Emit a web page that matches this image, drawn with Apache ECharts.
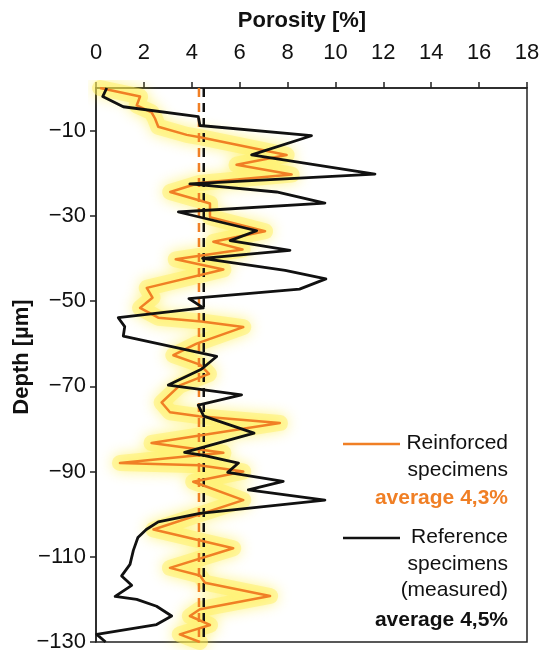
<!DOCTYPE html>
<html>
<head>
<meta charset="utf-8">
<script src="https://cdn.jsdelivr.net/npm/echarts@6/dist/echarts.min.js"></script>
<style>
html,body{margin:0;padding:0;background:#fff;}
#chart{width:544px;height:654px;}
</style>
</head>
<body>
<div id="chart"></div>
<script>
// ---- data ----
var xTicks = [0, 2, 4, 6, 8, 10, 12, 14, 16, 18];
var depthTicks = [-10, -30, -50, -70, -90, -110, -130];

var refDepth = [0,-2.0,-4.4,-6.7,-8.8,-11.2,-15.7,-20.2,-22.5,-22.8,-24.4,-27.0,-29.1,-33.5,-35.8,-38.1,-40.0,-42.8,-44.8,-47.2,-49.4,-51.6,-53.9,-56.0,-58.2,-63.0,-66.0,-69.7,-72.0,-74.4,-77.0,-81.0,-85.5,-86.2,-88.0,-90.2,-92.3,-94.3,-96.7,-99.8,-101.8,-103.6,-105.5,-108.5,-111.8,-114.5,-116.7,-119.3,-120.0,-121.6,-123.9,-125.9,-128.2,-130];
var refPorosity = [0.45,0.28,1.14,4.27,4.34,9.0,6.5,11.65,3.92,4.5,7.54,9.56,3.44,6.71,5.6,8.1,4.45,7.9,9.6,8.5,3.88,4.48,0.93,1.2,1.14,5.04,4.4,3.02,6.08,4.27,4.5,6.6,3.7,4.5,5.95,5.5,7.82,6.36,9.56,4.34,2.6,2.1,1.75,1.56,1.42,1.07,1.49,0.8,1.7,2.53,3.16,2.53,0.03,0.4];

var reinfDepth = [0,-2.0,-4.1,-5.7,-7.1,-9.1,-11.0,-11.6,-15.7,-18.0,-20.3,-22.3,-24.4,-26.4,-27.1,-30.3,-33.6,-36.1,-37.9,-40.2,-42.6,-46.9,-49.2,-51.6,-53.9,-54.8,-56.1,-60.0,-62.7,-64.9,-67.1,-69.8,-73.8,-76.1,-77.0,-78.6,-83.3,-85.6,-88.0,-88.5,-90.0,-92.4,-96.7,-103.6,-108.0,-112.6,-114.4,-116.1,-119.2,-122.3,-123.9,-126.0,-128.2,-130];
var reinfPorosity = [0.17,1.84,1.7,2.32,2.46,2.6,3.79,4.4,7.96,5.87,8.17,4.3,3.1,4.34,4.76,4.76,7.06,4.9,6.12,3.33,5.32,2.12,2.36,1.84,2.6,4.4,6.15,4.2,3.23,4.34,4.72,3.5,2.74,3.09,4.3,7.68,2.32,5.32,1.0,4.3,6.15,4.06,6.15,2.4,5.73,3.09,4.34,4.55,7.27,4.34,3.92,4.76,3.5,4.34];

var avgReinforced = 4.3;
var avgReference = 4.5;
var depthRange = [0, -130];

var xName = 'Porosity [%]';
var yName = 'Depth [µm]';
var legendReinf = ['Reinforced', 'specimens'];
var legendReinfAvg = 'average 4,3%';
var legendRef = ['Reference', 'specimens', '(measured)'];
var legendRefAvg = 'average 4,5%';

// ---- build ----
function pairs(xs, ys){ return xs.map(function(v,i){ return [v, ys[i]]; }); }
var ORANGE = '#f07f25';
var FONT = 'Liberation Sans, Arial, sans-serif';

var chart = echarts.init(document.getElementById('chart'), null, {renderer:'canvas'});
var option = {
  animation: false,
  backgroundColor: '#fff',
  grid: {left: 96, right: 17, top: 88, bottom: 12, show: true, borderColor: '#222', borderWidth: 1.5},
  xAxis: {
    type: 'value', position: 'top', min: xTicks[0], max: xTicks[xTicks.length-1], interval: 2,
    axisLine: {show: true, onZero: false, lineStyle: {color: '#222', width: 1.5}},
    axisTick: {show: true, inside: false, length: 6, lineStyle: {color: '#222', width: 1.5}},
    axisLabel: {color: '#111', fontSize: 22, fontFamily: FONT, margin: 24},
    splitLine: {show: false}
  },
  yAxis: {
    type: 'value', min: depthRange[1], max: depthRange[0],
    axisLine: {show: true, onZero: false, lineStyle: {color: '#222', width: 1.5}},
    axisTick: {show: true, length: 6, customValues: depthTicks, lineStyle: {color: '#222', width: 1.5}},
    axisLabel: {color: '#111', fontSize: 22, fontFamily: FONT, margin: 10, customValues: depthTicks,
      formatter: function(v){ return String(v).replace('-', '\u2212'); }},
    splitLine: {show: false}
  },
  graphic: [
    {type: 'text', style: {text: xName, x: 302, y: 21, align: 'center', verticalAlign: 'middle', font: 'bold 22px ' + FONT, fill: '#111'}},
    {type: 'text', x: 22, y: 357, rotation: Math.PI/2, style: {text: yName, x: 0, y: 0, align: 'center', verticalAlign: 'middle', font: 'bold 22px ' + FONT, fill: '#111'}},
    {type: 'line', shape: {x1: 343, y1: 444, x2: 400, y2: 444}, style: {stroke: ORANGE, lineWidth: 2.5}},
    {type: 'text', style: {text: legendReinf.join('\n'), x: 508, y: 430, align: 'right', verticalAlign: 'top', font: '21px ' + FONT, fill: '#111', lineHeight: 27}},
    {type: 'text', style: {text: legendReinfAvg, x: 508, y: 498, align: 'right', verticalAlign: 'middle', font: 'bold 21px ' + FONT, fill: ORANGE}},
    {type: 'line', shape: {x1: 343, y1: 538, x2: 400, y2: 538}, style: {stroke: '#111', lineWidth: 2.5}},
    {type: 'text', style: {text: legendRef.join('\n'), x: 508, y: 524, align: 'right', verticalAlign: 'top', font: '21px ' + FONT, fill: '#111', lineHeight: 26.5}},
    {type: 'text', style: {text: legendRefAvg, x: 508, y: 620, align: 'right', verticalAlign: 'middle', font: 'bold 21px ' + FONT, fill: '#111'}}
  ],
  series: [
    {type: 'line', name: 'glow', data: pairs(reinfPorosity, reinfDepth), symbol: 'none', silent: true, z: 1,
      lineStyle: {color: 'rgba(255,240,100,0.5)', width: 16, shadowBlur: 14, shadowColor: 'rgba(255,232,0,0.9)', join: 'round', cap: 'round'}},
    {type: 'line', name: 'avgReinf', data: [[avgReinforced, depthRange[0]], [avgReinforced, depthRange[1]]], symbol: 'none', z: 3,
      lineStyle: {color: ORANGE, width: 2.5, type: [9, 6]}},
    {type: 'line', name: 'avgRef', data: [[avgReference, depthRange[0]], [avgReference, depthRange[1]]], symbol: 'none', z: 3,
      lineStyle: {color: '#111', width: 2.5, type: [9, 6]}},
    {type: 'line', name: 'Reinforced', data: pairs(reinfPorosity, reinfDepth), symbol: 'none', z: 4,
      lineStyle: {color: ORANGE, width: 2.5, join: 'round'}},
    {type: 'line', name: 'Reference', data: pairs(refPorosity, refDepth), symbol: 'none', z: 5,
      lineStyle: {color: '#111', width: 2.8, join: 'round'}}
  ]
};
chart.setOption(option);
</script>
</body>
</html>
